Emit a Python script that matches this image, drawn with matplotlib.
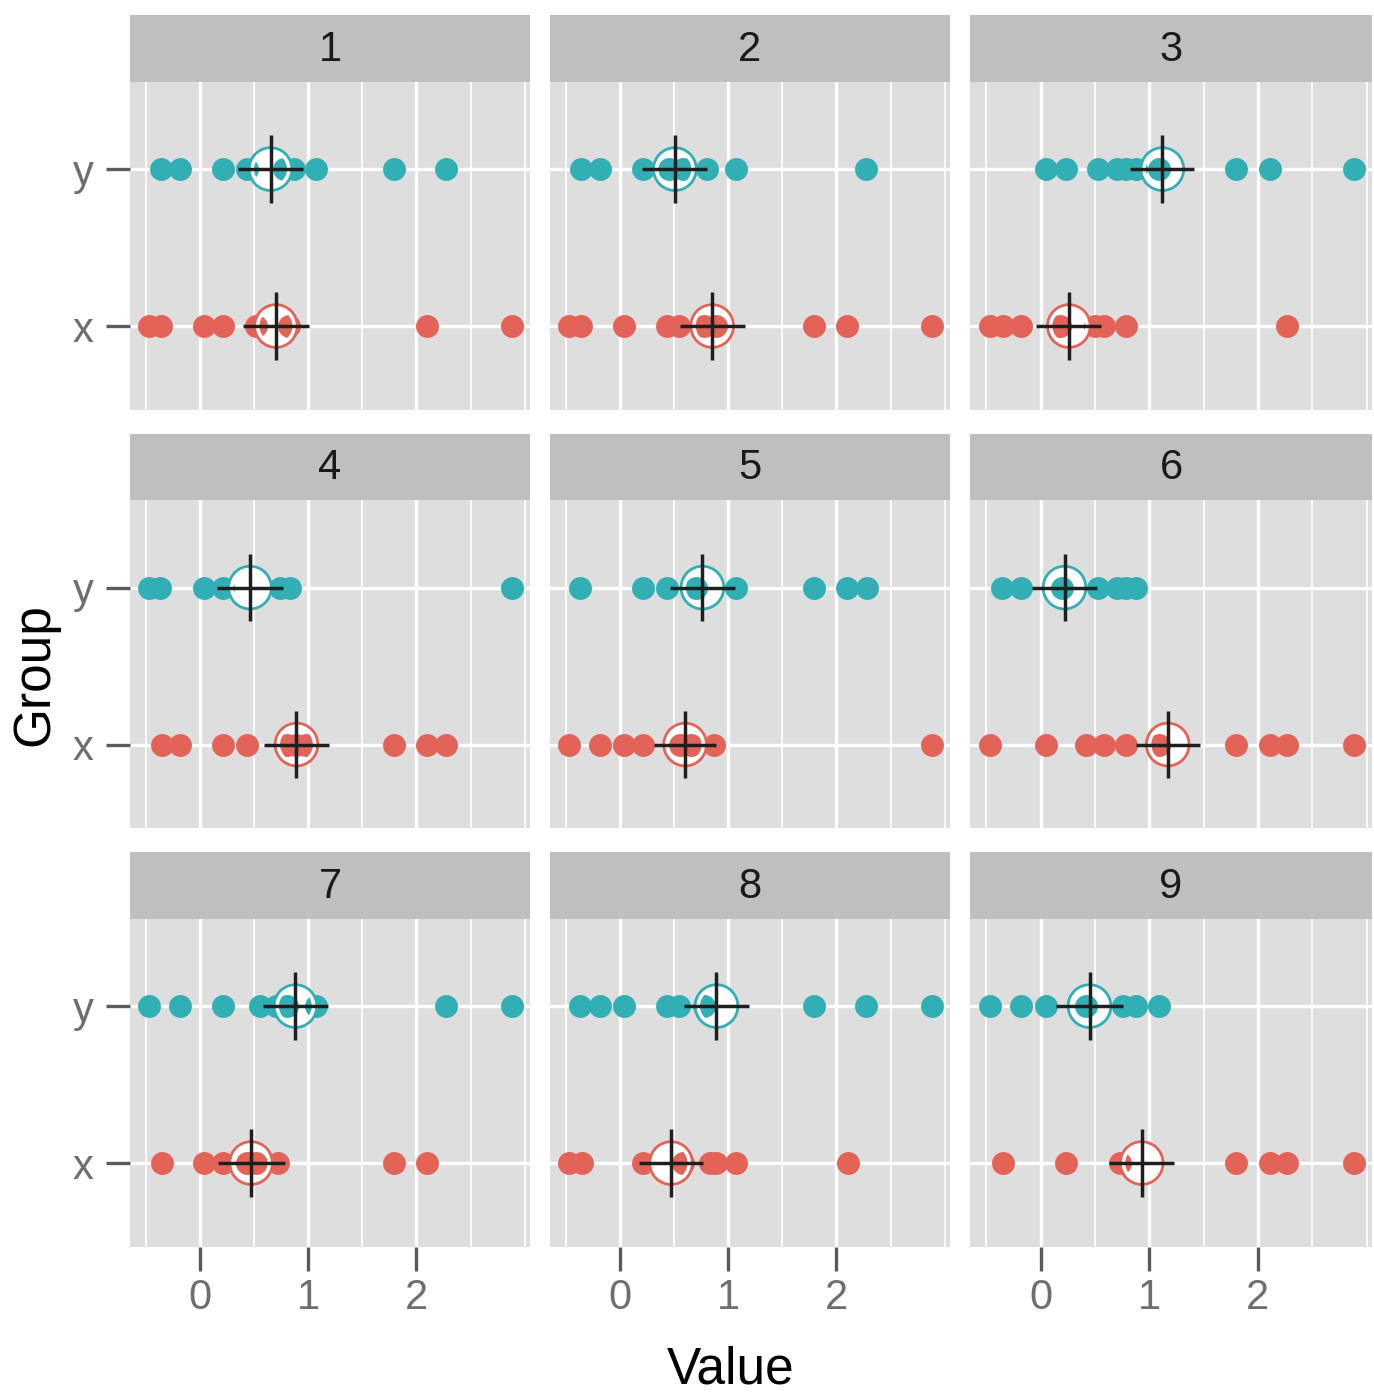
import matplotlib
matplotlib.use("Agg")
import matplotlib.pyplot as plt

plt.rcParams['font.family'] = ['Liberation Sans', 'DejaVu Sans']

# ---------------- data ----------------
facets = ['1', '2', '3', '4', '5', '6', '7', '8', '9']
groups = ['x', 'y']
group_colors = ['#E46358', '#31AFB4']

# observed values per facet, group "y"
y_values = [
    [-0.36, -0.19, 0.21, 0.43, 0.77, 0.87, 1.07, 1.79, 2.27],
    [-0.36, -0.19, 0.21, 0.45, 0.58, 0.80, 1.07, 2.27],
    [0.045, 0.23, 0.53, 0.70, 0.79, 0.88, 1.09, 1.80, 2.11, 2.88],
    [-0.47, -0.37, 0.03, 0.21, 0.74, 0.83, 2.88],
    [-0.37, 0.21, 0.43, 0.70, 1.07, 1.79, 2.10, 2.28],
    [-0.36, -0.18, 0.20, 0.53, 0.70, 0.79, 0.88],
    [-0.47, -0.19, 0.21, 0.55, 0.70, 0.80, 1.07, 2.27, 2.88],
    [-0.37, -0.19, 0.03, 0.43, 0.54, 0.77, 1.79, 2.27, 2.88],
    [-0.47, -0.18, 0.045, 0.42, 0.76, 0.88, 1.09],
]
# observed values per facet, group "x"
x_values = [
    [-0.47, -0.36, 0.03, 0.21, 0.52, 0.82, 2.10, 2.88],
    [-0.47, -0.36, 0.03, 0.43, 0.54, 0.77, 0.89, 1.79, 2.10, 2.88],
    [-0.47, -0.35, -0.18, 0.18, 0.50, 0.58, 0.79, 2.27],
    [-0.35, -0.19, 0.21, 0.43, 0.80, 0.89, 0.98, 1.79, 2.10, 2.27],
    [-0.47, -0.19, 0.03, 0.21, 0.55, 0.65, 0.87, 2.88],
    [-0.47, 0.045, 0.42, 0.58, 0.79, 1.09, 1.80, 2.11, 2.27, 2.88],
    [-0.35, 0.03, 0.21, 0.43, 0.52, 0.72, 1.79, 2.10],
    [-0.47, -0.35, 0.21, 0.58, 0.83, 0.89, 1.07, 2.11],
    [-0.35, 0.23, 0.73, 1.80, 2.11, 2.27, 2.88],
]
# summary (big circle + crosshair) per facet
y_center = [0.65, 0.505, 1.12, 0.46, 0.76, 0.22, 0.88, 0.89, 0.45]
x_center = [0.70, 0.85, 0.26, 0.89, 0.60, 1.17, 0.47, 0.47, 0.93]
y_halfwidth = [0.30, 0.30, 0.295, 0.306, 0.30, 0.295, 0.30, 0.30, 0.31]
x_halfwidth = [0.306, 0.30, 0.30, 0.30, 0.29, 0.294, 0.31, 0.297, 0.30]

x_major = [0, 1, 2]
x_minor = [-0.5, 0.5, 1.5, 2.5, 3.0]

# ---------------- layout ----------------
W, H = 1374, 1397
fig = plt.figure(figsize=(W / 100, H / 100), dpi=100)

col_left = [130, 550, 970]
col_w = [400, 400, 402]
strip_top = [15, 433.5, 852]
strip_h = 67
panel_h = 328

PANEL_BG = '#DEDEDE'
STRIP_BG = '#BFBFBF'
TICK_COL = '#5A5A5A'
LABEL_COL = '#6E6E6E'
CROSS_COL = '#1F1F1F'


def rect(l, t, w, h):
    return [l / W, 1 - (t + h) / H, w / W, h / H]


for i, name in enumerate(facets):
    r, c = divmod(i, 3)
    # strip
    sax = fig.add_axes(rect(col_left[c], strip_top[r], col_w[c], strip_h))
    sax.set_facecolor(STRIP_BG)
    sax.set_xticks([])
    sax.set_yticks([])
    for s in sax.spines.values():
        s.set_visible(False)
    sax.text(0.5, 0.48, name, transform=sax.transAxes, ha='center', va='center',
             fontsize=30, color='#1A1A1A')

    ax = fig.add_axes(rect(col_left[c], strip_top[r] + strip_h, col_w[c], panel_h))
    ax.set_facecolor(PANEL_BG)
    for s in ax.spines.values():
        s.set_visible(False)
    ax.set_xlim(-0.65, 3.05)
    ax.set_ylim(0.465, 2.555)
    ax.set_xticks(x_major)
    ax.set_xticks(x_minor, minor=True)
    ax.set_yticks([1, 2])
    ax.set_yticklabels(groups)
    ax.set_axisbelow(True)
    ax.grid(which='major', color='white', lw=2.4)
    ax.grid(which='minor', axis='x', color='white', lw=1.2)
    ax.tick_params(which='minor', length=0)
    ax.tick_params(which='major', length=17, width=2.4, color=TICK_COL,
                   labelsize=30, labelcolor=LABEL_COL)
    ax.tick_params(axis='x', pad=5)
    ax.tick_params(axis='y', pad=9)
    if c != 0:
        ax.tick_params(axis='y', length=0, labelleft=False)
    if r != 2:
        ax.tick_params(axis='x', length=0, labelbottom=False)

    data = [x_values[i], y_values[i]]
    centers = [x_center[i], y_center[i]]
    hws = [x_halfwidth[i], y_halfwidth[i]]
    for gi, g in enumerate(groups):
        yv = gi + 1
        col = group_colors[gi]
        m = centers[gi]
        vals = data[gi]
        ax.scatter([m], [yv], s=31.5 ** 2, facecolor='white', edgecolor='none',
                   linewidths=0, zorder=2)
        ax.scatter(vals, [yv] * len(vals), s=16.5 ** 2, color=col,
                   linewidths=0, zorder=3)
        ax.scatter([m], [yv], s=26.5 ** 2, facecolor='none', edgecolor='white',
                   linewidths=2.8, zorder=4)
        ax.scatter([m], [yv], s=30.8 ** 2, facecolor='none', edgecolor=col,
                   linewidths=2.0, zorder=5)
        hw = hws[gi]
        ax.plot([m - hw, m + hw], [yv, yv], color=CROSS_COL, lw=2.5,
                solid_capstyle='butt', zorder=6)
        ax.plot([m, m], [yv - 0.215, yv + 0.215], color=CROSS_COL, lw=2.5,
                solid_capstyle='butt', zorder=6)

fig.text(731 / W, 1 - 1370 / H, 'Value', ha='center', va='center',
         fontsize=37, color='black')
fig.text(35 / W, 1 - 675 / H, 'Group', ha='center', va='center',
         rotation=90, fontsize=37, color='black')

fig.savefig('out.png', dpi=100, facecolor='white')
